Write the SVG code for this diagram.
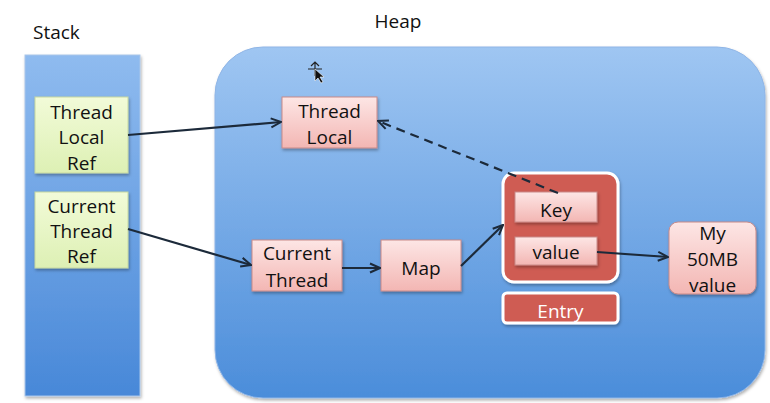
<svg xmlns="http://www.w3.org/2000/svg" width="770" height="403" viewBox="0 0 770 403">
<defs>
<linearGradient id="gStack" x1="0" y1="0" x2="0" y2="1">
<stop offset="0" stop-color="#8fbbef"/><stop offset="1" stop-color="#4888d8"/>
</linearGradient>
<linearGradient id="gHeap" x1="0" y1="0" x2="0" y2="1">
<stop offset="0" stop-color="#9fc6f2"/><stop offset="1" stop-color="#4b8dda"/>
</linearGradient>
<linearGradient id="gPink" x1="0" y1="0" x2="0" y2="1">
<stop offset="0" stop-color="#fde6e5"/><stop offset="1" stop-color="#f3b6b3"/>
</linearGradient>
<linearGradient id="gGreen" x1="0" y1="0" x2="0" y2="1">
<stop offset="0" stop-color="#f2fbd8"/><stop offset="1" stop-color="#ddf0b4"/>
</linearGradient>
<filter id="sh" x="-20%" y="-20%" width="140%" height="150%">
<feDropShadow dx="1" dy="2" stdDeviation="1.5" flood-color="#000" flood-opacity="0.3"/>
</filter>
<marker id="arr" viewBox="0 0 12 12" refX="11" refY="6" markerWidth="12" markerHeight="12" markerUnits="userSpaceOnUse" orient="auto">
<path d="M1,1.5 L11,6 L1,10.5" fill="none" stroke="#1c2a3a" stroke-width="2"/>
</marker>
</defs>
<style>
text{font-family:"Open Sans","Liberation Sans",sans-serif;font-size:19px;fill:#111111;text-anchor:middle}
.lbl{text-anchor:start}
.pink{fill:url(#gPink);stroke:#c98a88;stroke-width:1}
.green{fill:url(#gGreen);stroke:#c6d8a0;stroke-width:1}
.red{fill:#cf5c53;stroke:#ffffff;stroke-width:3}
.wt{fill:#ffffff}
.conn{fill:none;stroke:#1c2a3a;stroke-width:2.2;marker-end:url(#arr)}
.dash{stroke-dasharray:9 6}
</style>

<text class="lbl" x="33" y="39">Stack</text>
<text x="398" y="28">Heap</text>

<g id="stack">
<rect x="25" y="55" width="115" height="341" fill="url(#gStack)" stroke="#a9c6ea" stroke-width="1" filter="url(#sh)"/>
</g>
<g id="heap">
<rect x="215" y="47" width="550" height="351" rx="48" fill="url(#gHeap)" stroke="#8fb5e6" stroke-width="1" filter="url(#sh)"/>
</g>

<g id="threadLocalRef">
<rect class="green" x="35" y="97" width="93" height="76" filter="url(#sh)"/>
<text x="81.5" y="119">Thread</text>
<text x="81.5" y="144">Local</text>
<text x="81.5" y="170">Ref</text>
</g>
<g id="currentThreadRef">
<rect class="green" x="35" y="192" width="93" height="76" filter="url(#sh)"/>
<text x="81.5" y="213">Current</text>
<text x="81.5" y="238">Thread</text>
<text x="81.5" y="263">Ref</text>
</g>

<g id="threadLocal">
<rect class="pink" x="282" y="97" width="95" height="51" filter="url(#sh)"/>
<text x="329.5" y="118">Thread</text>
<text x="329.5" y="144">Local</text>
</g>
<g id="currentThread">
<rect class="pink" x="252" y="240" width="90" height="51" filter="url(#sh)"/>
<text x="297" y="260">Current</text>
<text x="297" y="287">Thread</text>
</g>
<g id="map">
<rect class="pink" x="381" y="240" width="80" height="51" filter="url(#sh)"/>
<text x="421" y="275">Map</text>
</g>
<g id="entry">
<rect class="red" x="503" y="173" width="115" height="109" rx="11" filter="url(#sh)"/>
</g>
<g id="key">
<rect class="pink" x="515" y="192" width="82" height="30" filter="url(#sh)"/>
<text x="556" y="217">Key</text>
</g>
<g id="value">
<rect class="pink" x="515" y="237" width="82" height="28" filter="url(#sh)"/>
<text x="556" y="259">value</text>
</g>
<g id="entryLabel">
<rect class="red" x="503" y="293" width="115" height="30" rx="4" filter="url(#sh)"/>
<text class="wt" x="560.5" y="318">Entry</text>
</g>
<g id="my50mb">
<rect class="pink" x="669" y="222" width="87" height="72" rx="9" filter="url(#sh)"/>
<text x="712.5" y="240">My</text>
<text x="712.5" y="266">50MB</text>
<text x="712.5" y="292">value</text>
</g>

<g id="connectors">
<line class="conn" x1="128" y1="135" x2="281" y2="122"/>
<line class="conn" x1="128" y1="229" x2="251" y2="265"/>
<line class="conn" x1="342" y1="268" x2="380" y2="268"/>
<line class="conn" x1="461" y1="266" x2="503" y2="225"/>
<line class="conn" x1="597" y1="252" x2="668" y2="257"/>
<line class="conn dash" x1="558" y1="193" x2="378" y2="121"/>
</g>

<g id="cursor">
<path d="M311,66 L315,62 L319,66 M315,62 L315,76 M308,69 L322,69" fill="none" stroke="#222" stroke-width="1.2"/>
<path d="M315,69 L315,81 L318,78 L321,83 L323,82 L320,77 L324,77 Z" fill="#111" stroke="#fff" stroke-width="0.6"/>
</g>
</svg>
